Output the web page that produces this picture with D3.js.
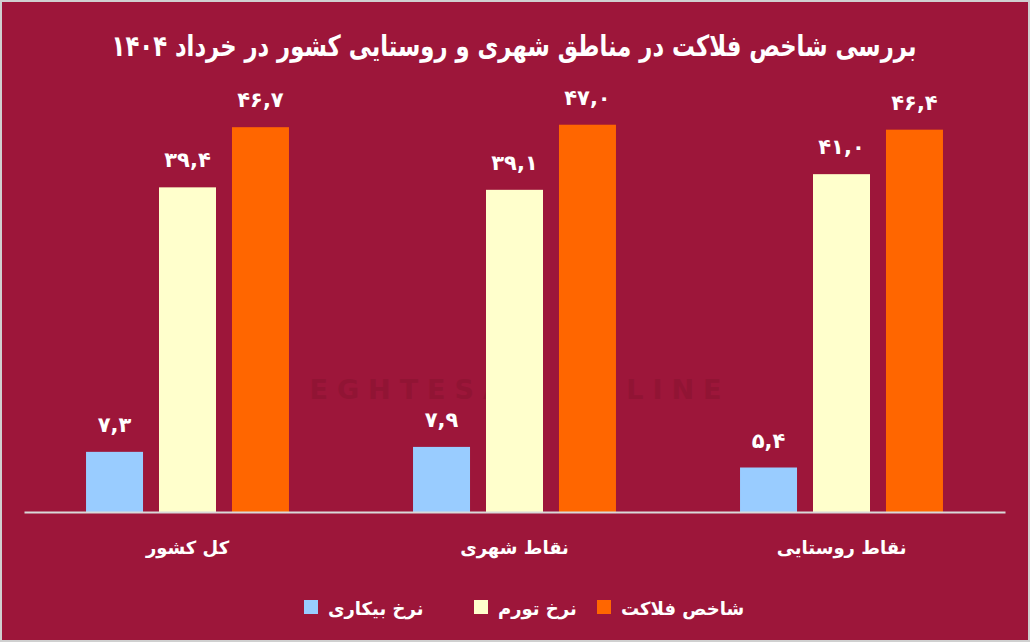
<!DOCTYPE html>
<html><head><meta charset="utf-8">
<script src="https://cdn.jsdelivr.net/npm/d3@7"></script>
<style>html,body{margin:0;padding:0;background:#fff;}svg{display:block;}</style>
</head><body>
<script>
const title = "بررسی شاخص فلاکت در مناطق شهری و روستایی کشور در خرداد ۱۴۰۴";
const categories = ["کل کشور", "نقاط شهری", "نقاط روستایی"];
const seriesNames = ["نرخ بیکاری", "نرخ تورم", "شاخص فلاکت"];
const unemployment = [7.3, 7.9, 5.4];
const inflation = [39.4, 39.1, 41.0];
const misery = [46.7, 47.0, 46.4];
const colors = ["#99CCFF", "#FFFFCC", "#FF6600"];

const W = 1030, H = 642;
const series = [unemployment, inflation, misery];
const fa = s => s.replace(/\d/g, d => "۰۱۲۳۴۵۶۷۸۹"[+d]).replace(".", ",");

const svg = d3.select("body").append("svg").attr("width", W).attr("height", H);
svg.append("rect").attr("x", 1).attr("y", 1).attr("width", W - 2).attr("height", H - 2)
  .attr("fill", "#9D163A").attr("stroke", "#d0d0d0").attr("stroke-width", 2);

const font = "DejaVu Sans";
// watermark
svg.append("text").attr("x", 520).attr("y", 399).attr("text-anchor", "middle")
  .attr("font-family", font).attr("font-weight", "bold").attr("font-size", 27)
  .attr("letter-spacing", 9).attr("fill", "#911434").text("EGHTESAD ONLINE");

const x0 = d3.scaleBand().domain(categories).range([24, 1005]).paddingInner(0).paddingOuter(0);
const x1 = d3.scaleBand().domain(seriesNames).range([0, x0.bandwidth()]).paddingInner(0.219).paddingOuter(0.85);
const y = d3.scaleLinear().domain([0, 50]).range([512, 100]);

// title (condensed horizontally to fit the reference width)
const t = svg.append("text").attr("x", 0).attr("y", 0).attr("text-anchor", "middle")
  .attr("font-family", font).attr("font-weight", "bold").attr("font-size", 29)
  .attr("fill", "#fff").attr("direction", "rtl").text(title);
const tw = t.node().getComputedTextLength();
const sx = Math.min(1, 805 / tw);
t.attr("transform", `translate(514,56) scale(${sx},1)`);

const g = svg.append("g");
categories.forEach((c, i) => {
  series.forEach((s, j) => {
    const xx = x0(c) + x1(seriesNames[j]);
    g.append("rect").attr("x", xx).attr("y", y(s[i])).attr("width", x1.bandwidth())
      .attr("height", y(0) - y(s[i])).attr("fill", colors[j]);
    g.append("text").attr("x", xx + x1.bandwidth() / 2).attr("y", y(s[i]) - 20)
      .attr("text-anchor", "middle").attr("font-family", font).attr("font-weight", "bold")
      .attr("font-size", 21).attr("fill", "#fff").text(fa(s[i].toFixed(1)));
  });
});

// axis
const ax = svg.append("g").attr("transform", `translate(0,${y(0)})`)
  .call(d3.axisBottom(x0).tickSize(0).tickPadding(29));
ax.select(".domain").attr("stroke", "#d9d9d9").attr("stroke-width", 2);
ax.selectAll("text").attr("font-family", font).attr("font-weight", "bold")
  .attr("font-size", 18).attr("fill", "#fff").attr("direction", "rtl").attr("text-anchor", "middle");

// legend
const legX = [304, 474, 597];
const lg = svg.append("g");
seriesNames.forEach((n, j) => {
  lg.append("rect").attr("x", legX[j]).attr("y", 600).attr("width", 14).attr("height", 14).attr("fill", colors[j]);
  lg.append("text").attr("x", legX[j] + 24).attr("y", 615).attr("font-family", font).attr("font-weight", "bold")
    .attr("font-size", 18).attr("fill", "#fff").attr("direction", "rtl").attr("text-anchor", "end").text(n);
});
</script>
</body></html>
